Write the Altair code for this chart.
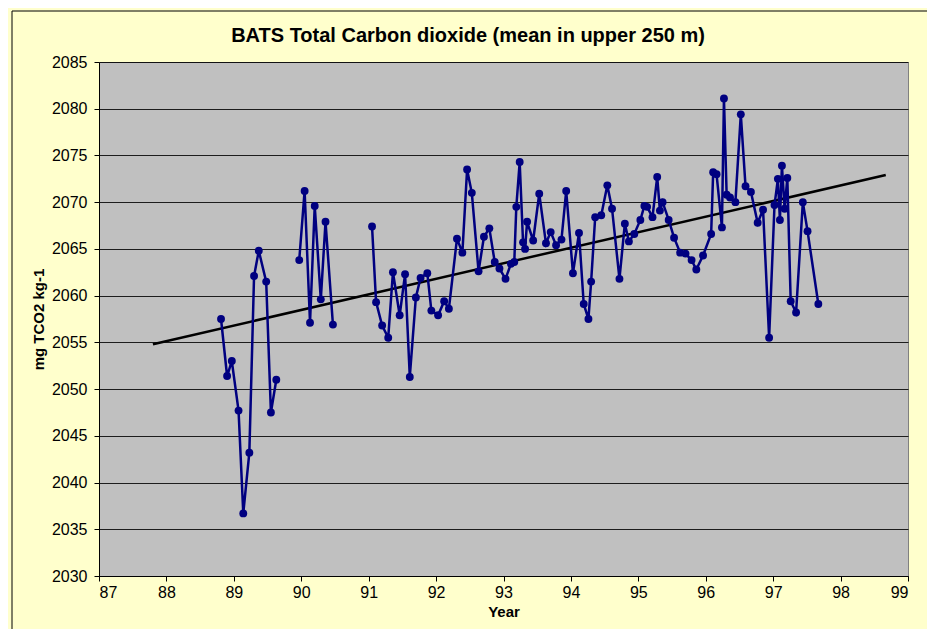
import altair as alt
import pandas as pd

# ---- data ----
years = [
    88.81, 88.90, 88.97, 89.07, 89.14, 89.23, 89.30, 89.37, 89.48, 89.55, 89.63,
    89.97, 90.05, 90.13, 90.20, 90.29, 90.36, 90.47,
    91.05, 91.11, 91.20, 91.29, 91.36, 91.46, 91.54, 91.61, 91.70, 91.77,
    91.87, 91.93, 92.03, 92.12, 92.19, 92.31, 92.39, 92.46, 92.53, 92.63,
    92.71, 92.79, 92.87, 92.94, 93.03, 93.11, 93.16, 93.19, 93.24, 93.29,
    93.32, 93.35, 93.44, 93.53, 93.63, 93.70, 93.78, 93.86, 93.93, 94.03,
    94.12, 94.19, 94.26, 94.30, 94.36, 94.45, 94.54, 94.61, 94.72, 94.80,
    94.86, 94.94, 95.03, 95.09, 95.13, 95.21, 95.28, 95.32, 95.36, 95.45,
    95.53, 95.62, 95.70, 95.79, 95.86, 95.96, 96.08, 96.11, 96.16, 96.24,
    96.27, 96.31, 96.36, 96.44, 96.52, 96.59, 96.67, 96.77, 96.85, 96.94,
    97.02, 97.07, 97.10, 97.13, 97.17, 97.21, 97.26, 97.34, 97.44, 97.51,
    97.67,
]
tco2 = [
    2057.5, 2051.4, 2053.0, 2047.7, 2036.7, 2043.2, 2062.1, 2064.8, 2061.5, 2047.5, 2051.0,
    2063.8, 2071.2, 2057.1, 2069.6, 2059.6, 2067.9, 2056.9,
    2067.4, 2059.3, 2056.8, 2055.5, 2062.5, 2057.9, 2062.3, 2051.3, 2059.8, 2061.9,
    2062.4, 2058.4, 2057.9, 2059.4, 2058.6, 2066.1, 2064.6, 2073.5, 2071.0, 2062.6,
    2066.3, 2067.2, 2063.6, 2062.9, 2061.8, 2063.4, 2063.6, 2069.5, 2074.3, 2065.7,
    2065.0, 2067.9, 2065.9, 2070.9, 2065.6, 2066.8, 2065.4, 2066.0, 2071.2, 2062.4,
    2066.7, 2059.1, 2057.5, 2061.5, 2068.4, 2068.6, 2071.8, 2069.3, 2061.8, 2067.7,
    2065.8, 2066.6, 2068.1, 2069.6, 2069.5, 2068.4, 2072.7, 2069.1, 2070.0, 2068.1,
    2066.2, 2064.6, 2064.5, 2063.8, 2062.8, 2064.3, 2066.6, 2073.2, 2073.0, 2067.3,
    2081.1, 2070.8, 2070.5, 2070.0, 2079.4, 2071.7, 2071.1, 2067.8, 2069.2, 2055.5,
    2069.7, 2072.5, 2068.1, 2073.9, 2069.3, 2072.6, 2059.4, 2058.2, 2070.0, 2066.9,
    2059.1,
]
trend_years = [87.80, 98.67]
trend_values = [2054.8, 2072.9]

x_ticks = list(range(87, 100))
y_ticks = list(range(2030, 2086, 5))

title_text = "BATS Total Carbon dioxide (mean in upper 250 m)"
x_title = "Year"
y_title = "mg TCO2 kg-1"

# ---- tables ----
segments = []
seg = 0
for i, yr in enumerate(years):
    if i > 0 and yr - years[i - 1] > 0.25:
        seg += 1
    segments.append(seg)

df = pd.DataFrame({"year": years, "tco2": tco2, "segment": segments})
trend = pd.DataFrame({"year": trend_years, "tco2": trend_values})
one = pd.DataFrame({"title": [title_text]})

NAVY = "#000080"
FONT = "Liberation Sans"

x_enc = alt.X(
    "year:Q",
    scale=alt.Scale(domain=[87, 99], nice=False, zero=False),
    axis=alt.Axis(values=x_ticks, format="d", grid=False, title=x_title,
                  labelPadding=3, titlePadding=4, titleFontSize=15),
)
y_enc = alt.Y(
    "tco2:Q",
    scale=alt.Scale(domain=[2030, 2085], nice=False, zero=False),
    axis=alt.Axis(values=y_ticks, format="d", grid=True, title=y_title,
                  labelPadding=7, titlePadding=5, titleFontSize=15),
)

line = alt.Chart(df).mark_line(color=NAVY, strokeWidth=2.5).encode(
    x=x_enc, y=y_enc, detail="segment:N"
)
pts = alt.Chart(df).mark_circle(color=NAVY, size=62, opacity=1).encode(
    x="year:Q", y="tco2:Q"
)
trend_line = alt.Chart(trend).mark_line(color="black", strokeWidth=2.5).encode(
    x="year:Q", y="tco2:Q"
)

frame_left = alt.Chart(one).mark_rule(color="black", strokeWidth=1).encode(
    x=alt.value(-87), y=alt.value(-51), y2=alt.value(640)
)
frame_top = alt.Chart(one).mark_rule(color="black", strokeWidth=1).encode(
    x=alt.value(-87), x2=alt.value(900), y=alt.value(-51)
)
title_mark = alt.Chart(one).mark_text(
    font=FONT, fontSize=20, fontWeight="bold", color="black",
    align="center", baseline="alphabetic",
).encode(text="title:N", x=alt.value(369), y=alt.value(-20))

chart = (
    alt.layer(frame_left, frame_top, title_mark, trend_line, line, pts)
    .properties(
        width=809,
        height=514,
        autosize=alt.AutoSizeParams(type="none"),
        padding={"left": 91, "top": 54, "right": 19, "bottom": 53},
        background="#FFFFCC",
    )
    .configure_view(fill="#C0C0C0", stroke="#808080", strokeWidth=1)
    .configure_axis(
        labelFont=FONT, labelFontSize=16, labelColor="black",
        titleFont=FONT, titleFontWeight="bold", titleColor="black",
        domainColor="black", domainWidth=1, tickColor="black", tickSize=5,
        gridColor="black", gridWidth=1, gridOpacity=0.85,
    )
)

chart.save("out.html", embed_options={"renderer": "svg", "actions": False})
